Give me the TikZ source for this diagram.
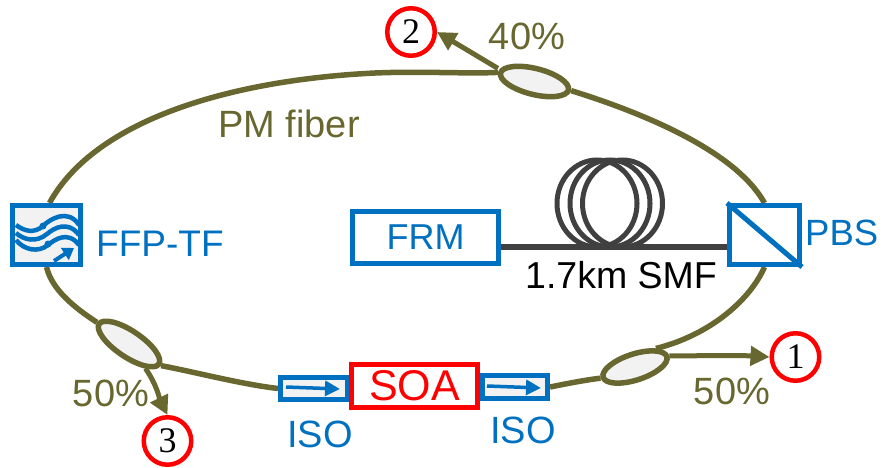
\documentclass[tikz,border=0pt]{standalone}
\usepackage{fontspec}
\setmainfont{Liberation Sans}
\newfontfamily\numfont{Liberation Serif}
\usetikzlibrary{arrows.meta,shapes.geometric}
\definecolor{olv}{HTML}{67672F}
\definecolor{blu}{HTML}{0070C0}
\definecolor{fib}{HTML}{404040}
\definecolor{lgr}{HTML}{F2F2F2}
\newcommand{\fsz}[1]{\fontsize{#1}{#1}\selectfont}
\pgfdeclarelayer{under}
\pgfsetlayers{under,main}
\tikzset{
 ring/.style={draw=olv,line width=5.5pt},
 outp/.style={draw=olv,line width=5pt,-{Triangle[length=19pt,width=19pt]}},
 coupler/.style={ellipse,draw=olv,line width=5.5pt,fill=lgr,inner sep=0pt},
 bbox/.style={rectangle,draw=blu,line width=5pt,inner sep=0pt},
 rbox/.style={rectangle,draw=red,line width=5pt,inner sep=0pt,fill=white},
 circ/.style={circle,draw=red,line width=4.5pt,fill=white,minimum size=47.5pt,inner sep=0pt,font=\numfont\fsz{36}},
 lab/.style={inner sep=0pt,text=blu,font=\fsz{37}},
 olab/.style={inner sep=0pt,text=olv,font=\fsz{38}},
 wave/.style={draw=blu,line width=4.5pt},
 loopc/.style={ellipse,draw=fib,line width=5pt,minimum width=80pt,minimum height=87pt,inner sep=0pt},
 isoar/.style={draw=blu,line width=3.5pt,-{Triangle[length=15pt,width=15pt]}}
}
\begin{document}
\begin{tikzpicture}[x=1pt,y=-1pt]
\useasboundingbox (0,0) rectangle (883,468);
% couplers
\node[coupler,minimum width=70pt,minimum height=26pt,rotate=-14] (ctop) at (534.5,81.5) {};
\node[coupler,minimum width=72pt,minimum height=26pt,rotate=-34] (cleft) at (129,344) {};
\node[coupler,minimum width=67pt,minimum height=26pt,rotate=18] (cright) at (635,367) {};
% coil
\node[loopc] (l1) at (597,203.5) {};
\node[loopc] (l2) at (610,203.5) {};
\node[loopc] (l3) at (622.5,203.5) {};
% boxes
\node[bbox,minimum width=146pt,minimum height=52pt,font=\fsz{36},text=blu] (frm) at (425.5,237.5) {FRM};
\node[bbox,minimum width=70pt,minimum height=59pt,fill=white] (pbs) at (764.5,235) {};
\node[bbox,minimum width=68pt,minimum height=59pt,fill=lgr] (ffp) at (46.5,235) {};
\node[bbox,fill=lgr,minimum width=67pt,minimum height=22pt] (iso1) at (314,388.5) {};
\node[bbox,fill=lgr,minimum width=65pt,minimum height=23pt] (iso2) at (515,387) {};
\node[rbox,minimum width=126pt,minimum height=43pt,font=\fsz{43},text=red] (soa) at (414.5,386) {SOA};
% outputs
\node[circ] (o2) at (411,32) {2};
\node[circ] (o1) at (795.5,357) {1};
\node[circ] (o3) at (167.5,441) {3};
% connectors lie under the nodes
\begin{pgfonlayer}{under}
\draw[ring] ([xshift=3pt]ffp.north) .. controls (95,120) and (230,80) .. (375,73) .. controls (420,71) and (470,74) .. (ctop.west);
\draw[ring] (ctop.east) .. controls (640,112) and (735,150) .. (pbs.north);
\draw[ring] (pbs.south) .. controls (750,300) and (710,335) .. (cright.north east);
\draw[ring] (cright.west) .. controls (585,380) and (565,384) .. (iso2.east);
\draw[ring] (iso1.west) .. controls (240,384) and (195,372) .. (cleft.east);
\draw[ring] (cleft.west) .. controls (75,308) and (52,290) .. (ffp.south);
\draw[outp] ([shift={(0,-4)}]ctop.west) -- (o2.east);
\draw[outp] (cright.east) .. controls (700,356) and (735,355) .. (o1.west);
\draw[outp] (cleft.south east) .. controls (157,385) and (160,400) .. (o3.north);
\end{pgfonlayer}
\draw[fib,line width=6pt] (frm.east |- 0,247) -- (pbs.west |- 0,247);
\draw[blu,line width=5pt] (pbs.north west) -- (pbs.south east);
% FFP-TF interior
\draw[wave] (16,225) .. controls (24,231) and (34,234) .. (43,226) .. controls (50,219) and (68,208) .. (79,225);
\draw[wave] (16,233) .. controls (24,240) and (36,243) .. (47,234) .. controls (54,228) and (68,220) .. (79,235);
\draw[wave] (16,240) .. controls (24,250) and (38,253) .. (48,245) .. controls (54,240) and (68,230) .. (79,245);
\fill[blu] (43,226) circle (3.5pt) (48,244) circle (3.5pt);
\draw[blu,line width=4pt,-{Triangle[length=11pt,width=14pt]}] (54,261) -- (74,248);
% isolator arrows
\draw[isoar] (286,387) -- (340,389);
\draw[isoar] (487,386) -- (541,388);
% texts
\node[lab,anchor=west] (tffp) at (96,244) {FFP-TF};
\node[lab,anchor=west,font=\fsz{36.5}] (tpbs) at (805,233) {PBS};
\node[inner sep=0pt,font=\fsz{37.5},text=black,anchor=west] (tsmf) at (525,275) {1.7km SMF};
\node[lab,font=\fsz{38}] (tiso1) at (320,434) {ISO};
\node[lab,font=\fsz{38}] (tiso2) at (523,430) {ISO};
\node[olab] (tpm) at (289,123.5) {PM fiber};
\node[olab] (t40) at (527,36) {40\%};
\node[olab] (t50l) at (111,393) {50\%};
\node[olab] (t50r) at (732,391) {50\%};
\end{tikzpicture}
\end{document}
